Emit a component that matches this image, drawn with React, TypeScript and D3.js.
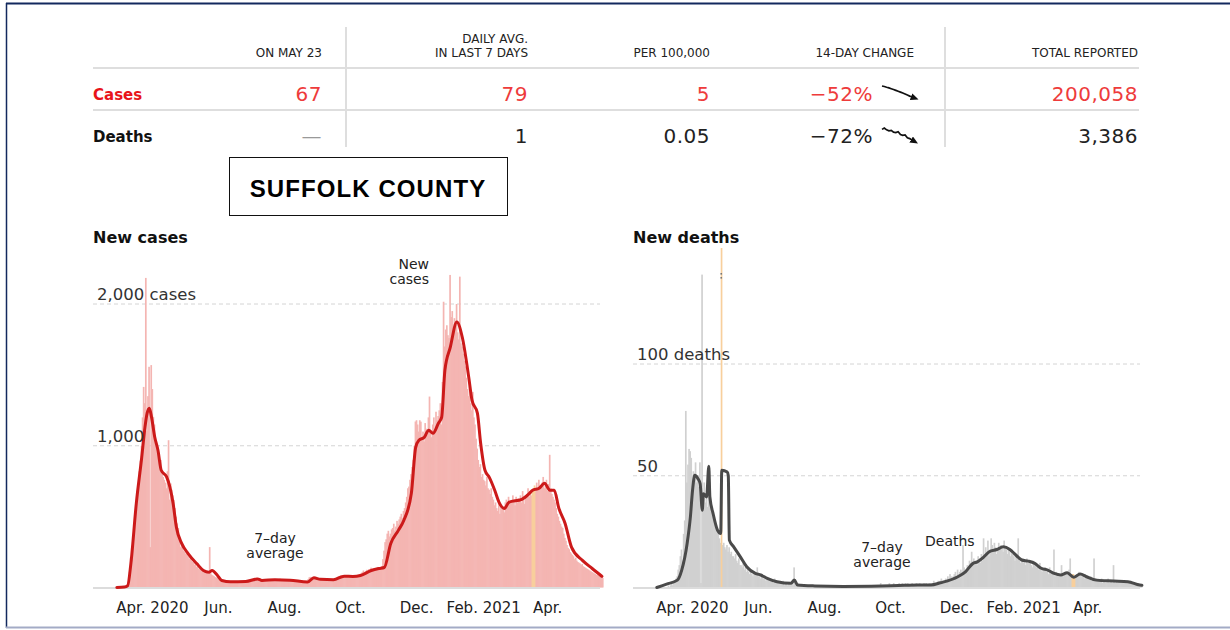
import React from 'react';
import * as d3 from 'd3';

// ---------------- DATA ----------------
const DATA_START = '2020-03-01';
const X_DOMAIN = ['2020-02-08', '2021-05-24'];

// daily new cases, one value per day from 2020-03-01 to 2021-05-23
const casesDaily: number[] = [
  0,0,0,0,0,0,1,
  1,2,5,40,110,212,280,
  330,424,480,560,683,720,820,
  894,1000,1200,1415,1300,2184,1106,
  1350,1557,285,1569,1400,1204,1150,
  1016,1000,980,900,850,900,800,
  780,760,740,700,820,1039,620,
  734,690,650,618,560,500,452,
  420,350,285,320,300,260,250,
  238,250,220,200,230,191,180,
  175,160,170,144,150,130,140,
  125,120,108,115,100,110,105,
  95,285,100,90,85,80,73,
  70,73,60,55,50,45,42,
  40,45,38,42,37,40,35,
  38,42,36,40,44,39,35,
  40,38,45,42,36,41,39,
  45,42,48,50,44,46,40,
  55,62,70,58,52,60,48,
  50,52,48,55,53,50,47,
  55,58,52,60,54,50,56,
  58,55,60,62,52,57,54,
  56,50,58,60,52,48,55,
  50,52,48,54,46,50,45,
  42,45,40,38,44,36,40,
  38,60,72,75,68,70,65,
  66,60,62,58,64,55,60,
  55,58,52,60,56,54,50,
  55,52,58,60,54,62,65,
  70,78,82,85,75,80,88,
  80,82,76,85,78,74,80,
  75,80,85,78,88,82,90,
  95,100,110,120,105,115,125,
  120,130,125,140,128,135,130,
  138,130,145,140,135,142,150,
  200,260,320,340,380,400,360,
  380,410,420,450,400,430,470,
  450,480,500,520,490,540,560,
  600,640,700,712,760,800,850,
  901,1000,1171,1180,1150,1100,1180,
  1170,1040,1100,1030,1160,1120,1080,
  1200,1347,1100,1060,1150,1200,1100,
  1240,1180,1210,1250,1300,1150,1450,
  2016,1700,1820,1850,1780,1760,2205,
  1908,1950,1837,1900,1860,2000,1800,
  1750,2193,1723,1700,1650,1600,1560,
  1480,1400,1350,1420,1300,1250,1380,
  1200,1150,1050,980,900,850,870,
  780,800,760,750,720,780,700,
  690,660,700,640,620,580,600,
  560,540,600,520,580,550,570,
  530,600,620,580,640,610,590,
  600,650,620,580,640,600,630,
  610,650,600,680,620,590,640,
  660,700,640,680,650,680,700,
  720,680,740,700,760,720,700,
  740,780,700,720,760,680,730,
  936,700,660,640,620,600,560,
  520,500,470,450,430,420,380,
  350,330,300,280,270,250,240,
  230,220,200,210,190,180,175,
  170,160,165,150,145,140,135,
  130,125,120,115,110,105,100,
  95,90,88,85,82,80,75,
  67,
];

// daily new deaths, same days
const deathsDaily: number[] = [
  0,0,0,0,0,0,0,
  0,0,0,1,0,1,2,
  1,3,2,4,5,8,10,
  14,17,12,24,30,79,47,
  55,62,61,58,44,52,50,
  56,47,50,45,56,2,140,
  40,47,38,42,36,45,40,
  36,34,32,30,28,27,25,
  24,22,20,210,19,20,18,
  17,19,16,18,15,16,14,
  14,13,15,12,11,13,10,
  10,9,11,8,9,7,9,
  7,6,8,6,5,7,6,
  6,9,5,6,4,5,5,
  4,5,3,4,4,3,4,
  3,3,2,4,3,2,3,
  2,3,2,2,3,1,2,
  2,1,2,2,1,2,1,
  9,2,1,1,2,1,1,
  1,0,1,1,0,1,1,
  0,1,1,0,1,0,1,
  1,0,1,0,1,1,0,
  1,1,0,1,0,1,0,
  0,1,0,1,1,0,1,
  1,0,0,1,0,1,0,
  0,1,1,0,1,0,1,
  1,0,1,0,0,1,1,
  0,1,0,1,1,0,0,
  1,0,1,0,1,1,0,
  0,1,1,2,1,0,1,
  1,1,0,1,2,1,1,
  1,2,1,1,0,1,2,
  1,1,2,1,1,2,1,
  2,1,1,0,2,1,1,
  1,2,1,1,2,1,1,
  1,2,1,2,1,1,2,
  2,1,2,3,1,2,2,
  3,2,3,4,2,3,3,
  4,3,5,4,6,5,4,
  5,6,7,5,8,6,7,
  8,7,19,9,6,8,10,
  9,12,11,16,10,13,11,
  12,10,14,13,11,15,12,
  22,15,18,16,21,14,17,
  22,19,16,20,18,15,17,
  20,17,19,18,16,21,18,
  17,15,18,16,14,17,15,
  14,12,15,13,22,12,11,
  12,13,11,12,10,13,11,
  11,12,10,9,12,10,11,
  9,10,8,11,9,7,8,
  8,9,7,8,6,9,7,
  7,6,17,5,7,6,5,
  6,5,10,6,5,7,6,
  7,6,8,13,5,6,6,
  5,4,6,5,7,6,5,
  6,5,4,6,5,4,5,
  4,5,3,4,13,3,4,
  3,4,3,3,4,2,3,
  3,2,3,4,2,3,3,
  2,10,3,2,3,2,3,
  3,2,3,2,3,2,2,
  3,2,2,3,2,2,1,
  2,1,1,2,1,1,1,
  0,
];

// 7-day average, read at key dates
const casesAvg: [string, number][] = [
  ['2020-03-01',0],['2020-03-08',3],['2020-03-11',12],['2020-03-14',170],['2020-03-19',594],
  ['2020-03-24',919],['2020-03-27',1131],['2020-03-29',1230],['2020-03-31',1265],['2020-04-02',1204],
  ['2020-04-05',1062],['2020-04-08',968],['2020-04-11',827],['2020-04-16',780],['2020-04-19',709],
  ['2020-04-22',592],['2020-04-25',426],['2020-04-30',309],['2020-05-06',238],['2020-05-14',167],
  ['2020-05-20',120],['2020-05-25',108],['2020-05-28',120],['2020-06-02',85],['2020-06-06',49],
  ['2020-06-14',40],['2020-06-28',42],['2020-07-09',60],['2020-07-13',50],['2020-07-25',55],
  ['2020-08-08',52],['2020-08-24',38],['2020-08-30',68],['2020-09-05',58],['2020-09-17',55],
  ['2020-09-27',80],['2020-10-05',78],['2020-10-12',85],['2020-10-22',120],['2020-10-29',134],
  ['2020-11-03',141],['2020-11-09',311],['2020-11-16',403],['2020-11-21',473],['2020-11-28',664],
  ['2020-12-02',989],['2020-12-05',1039],['2020-12-10',1060],['2020-12-14',1110],['2020-12-18',1088],
  ['2020-12-23',1159],['2020-12-26',1201],['2020-12-29',1534],['2021-01-03',1696],['2021-01-09',1873],
  ['2021-01-14',1767],['2021-01-20',1484],['2021-01-23',1322],['2021-01-28',1230],['2021-01-31',1018],
  ['2021-02-04',827],['2021-02-08',777],['2021-02-13',686],['2021-02-17',601],['2021-02-22',558],
  ['2021-02-26',601],['2021-03-10',622],['2021-03-17',664],['2021-03-20',686],['2021-03-26',700],
  ['2021-03-31',735],['2021-04-05',686],['2021-04-09',686],['2021-04-13',565],['2021-04-19',452],
  ['2021-04-25',283],['2021-05-05',191],['2021-05-14',134],['2021-05-23',79],
];

const deathsAvg: [string, number][] = [
  ['2020-03-01',0],['2020-03-10',1.5],['2020-03-20',3.3],['2020-03-24',7.8],['2020-03-29',19.7],
  ['2020-04-01',31.6],['2020-04-03',43.5],['2020-04-05',50.2],['2020-04-08',48.7],['2020-04-10',46.5],
  ['2020-04-12',34.6],['2020-04-13',42],['2020-04-16',40.5],['2020-04-18',54.2],['2020-04-19',40.5],
  ['2020-04-22',33],['2020-04-26',25.7],['2020-04-29',24.2],['2020-04-30',52.5],['2020-05-05',51.7],
  ['2020-05-06',50],['2020-05-07',21.2],['2020-05-11',18.2],['2020-05-17',13.8],['2020-05-23',9.3],
  ['2020-05-31',6.3],['2020-06-05',5.6],['2020-06-11',4.1],['2020-06-20',2.6],['2020-07-03',1.9],
  ['2020-07-06',3.3],['2020-07-09',1.1],['2020-07-25',0.7],['2020-08-20',0.5],['2020-09-15',0.6],
  ['2020-10-10',0.9],['2020-10-28',1.1],['2020-11-09',1.1],['2020-11-18',2.1],['2020-12-04',4.8],
  ['2020-12-11',7],['2020-12-18',10.8],['2020-12-22',11.5],['2020-12-28',13.7],['2021-01-02',16],
  ['2021-01-09',17],['2021-01-15',18.2],['2021-01-21',17],['2021-01-25',15.3],['2021-02-01',12.3],
  ['2021-02-07',11.8],['2021-02-13',10.8],['2021-02-19',8.6],['2021-02-25',7.8],['2021-03-03',6.3],
  ['2021-03-09',5.6],['2021-03-15',6.6],['2021-03-21',4.6],['2021-03-27',6],['2021-04-02',4.8],
  ['2021-04-11',3.3],['2021-04-27',2.9],['2021-05-10',2.6],['2021-05-21',1.1],['2021-05-23',1],
];

const casesHighlight = ['2021-03-19', '2021-03-20', '2021-03-21'];
const deathsHighlight = ['2020-04-29', '2021-03-19', '2021-03-20', '2021-03-21'];

const tickDates = ['2020-04-01','2020-06-01','2020-08-01','2020-10-01','2020-12-01','2021-02-01','2021-04-01'];
const tickLabels = ['Apr. 2020','Jun.','Aug.','Oct.','Dec.','Feb. 2021','Apr.'];

const caseGridValues = [1000, 2000];
const caseGridLabels = ['1,000', '2,000 cases'];
const deathGridValues = [50, 100];
const deathGridLabels = ['50', '100 deaths'];

const tableHeaders: string[][] = [['ON MAY 23'], ['DAILY AVG.', 'IN LAST 7 DAYS'], ['PER 100,000'], ['14-DAY CHANGE'], ['TOTAL REPORTED']];
const rowNames = ['Cases', 'Deaths'];
const casesRow = ['67', '79', '5', '\u221252%', '200,058'];
const deathsRow = ['\u2014', '1', '0.05', '\u221272%', '3,386'];
const sparkCases = [165, 161, 155, 150, 144, 138, 131, 124, 117, 110, 102, 94, 86, 79];
const sparkDeaths = [3.3, 3.6, 3.2, 3.0, 3.1, 2.7, 2.6, 2.8, 2.2, 2.0, 2.1, 1.5, 1.3, 1.0];

// ---------------- LAYOUT ----------------
const SANS = "'DejaVu Sans', Verdana, sans-serif";
const parse = d3.timeParse('%Y-%m-%d');
const fmt = d3.timeFormat('%Y-%m-%d');

type PanelProps = {
  off: number;
  daily: number[];
  avg: [string, number][];
  highlight: string[];
  y: d3.ScaleLinear<number, number>;
  gridValues: number[];
  gridLabels: string[];
  barColor: string;
  hiColor: string;
  lineColor: string;
  id: string;
  children?: React.ReactNode;
};

function Panel({ off, daily, avg, highlight, y, gridValues, gridLabels, barColor, hiColor, lineColor, id, children }: PanelProps) {
  const x = d3.scaleTime().domain(X_DOMAIN.map((s) => parse(s) as Date)).range([93 + off, 603 + off]);
  const start = parse(DATA_START) as Date;
  const hi = new Set(highlight);
  const bars = daily.map((v, i) => {
    const d0 = d3.timeDay.offset(start, i);
    const d1 = d3.timeDay.offset(start, i + 1);
    return { x: x(d0), w: x(d1) - x(d0), y: y(v), h: y(0) - y(v), hi: hi.has(fmt(d0)), v };
  });
  const line = d3
    .line<[string, number]>()
    .x((p) => x(parse(p[0]) as Date))
    .y((p) => y(p[1]))
    .curve(d3.curveMonotoneX);
  const x0 = 93 + off;
  const x1 = 600 + off;
  const clipTop = 248;
  const broken = bars.filter((b) => b.y < clipTop);
  return (
    <g>
      <defs>
        <clipPath id={id}>
          <rect x={x0 - 2} y={clipTop} width={x1 - x0 + 8} height={y(0) - clipTop + 1} />
        </clipPath>
      </defs>
      {gridValues.map((g) => (
        <line key={g} x1={x0} x2={x1} y1={y(g)} y2={y(g)} stroke="#d4d4d4" strokeWidth={1} strokeDasharray="4,3" />
      ))}
      <g clipPath={`url(#${id})`}>
        {bars.filter((b) => !b.hi).map((b, i) => (
          <rect key={i} x={b.x} width={b.w + 0.6} y={b.y} height={b.h} fill={barColor} />
        ))}
        {bars.filter((b) => b.hi).map((b, i) => (
          <rect key={'h' + i} x={b.x} width={b.w + 0.6} y={b.y} height={b.h} fill={hiColor} />
        ))}
      </g>
      {broken.map((b, i) => (
        <g key={'br' + i}>
          <rect x={b.x + b.w / 2 - 0.8} y={273} width={1.6} height={1.6} fill="#777" />
          <rect x={b.x + b.w / 2 - 0.8} y={277} width={1.6} height={1.6} fill="#777" />
        </g>
      ))}
      <line x1={x0} x2={x1} y1={y(0) + 0.5} y2={y(0) + 0.5} stroke="#dcdcdc" strokeWidth={2} />
      <path d={line(avg) || ''} fill="none" stroke={lineColor} strokeWidth={3} strokeLinejoin="round" strokeLinecap="round" />
      {gridValues.map((g, i) => (
        <text key={'gl' + g} x={x0 + 4} y={y(g) - 4} fontFamily={SANS} fontSize={16.5} fill="#333">
          {gridLabels[i]}
        </text>
      ))}
      {tickDates.map((t, i) => (
        <text key={t} x={x(parse(t) as Date) + 2} y={612.5} textAnchor="middle" fontFamily={SANS} fontSize={15} fill="#222">
          {tickLabels[i]}
        </text>
      ))}
      {children}
    </g>
  );
}

function Spark({ values, xa, xb, ya, yb }: { values: number[]; xa: number; xb: number; ya: number; yb: number }) {
  const sx = d3.scaleLinear().domain([0, values.length - 1]).range([xa, xb]);
  const ext = d3.extent(values) as [number, number];
  const sy = d3.scaleLinear().domain([ext[1], ext[0]]).range([ya, yb]);
  const line = d3.line<number>().x((_, i) => sx(i)).y((v) => sy(v));
  return <path d={line(values) || ''} fill="none" stroke="#111" strokeWidth={1.7} markerEnd="url(#arrow)" />;
}

export default function App() {
  const yCases = d3.scaleLinear().domain([0, 2000]).range([587.5, 304]);
  const yDeaths = d3.scaleLinear().domain([0, 100]).range([587.5, 364]);
  const colRight = [322, 528, 710, 873, 1138];
  const headerRight = [322, 528, 710, 914, 1138];
  const rowBase = [101, 143];
  const rowsData = [casesRow, deathsRow];
  const rowColors = ['#ee3b3b', '#222'];
  const nameColors = ['#e8141a', '#111'];

  return (
    <svg width={1230} height={630} style={{ position: 'absolute', left: 0, top: 0, background: '#fff' }}>
      <defs>
        <marker id="arrow" viewBox="0 0 8 7" refX={1} refY={3.5} markerWidth={8} markerHeight={7} markerUnits="userSpaceOnUse" orient="auto">
          <path d="M0,0 L8,3.5 L0,7 Z" fill="#111" />
        </marker>
      </defs>
      <rect x={0} y={0} width={1230} height={630} fill="#fff" />
      {/* border */}
      <line x1={6} x2={1230} y1={3.5} y2={3.5} stroke="#13295e" strokeWidth={2} />
      <line x1={6.5} x2={6.5} y1={3} y2={628} stroke="#13295e" strokeWidth={1.5} />
      <line x1={6} x2={1230} y1={627.5} y2={627.5} stroke="#a3abc6" strokeWidth={2} />

      {/* table */}
      <line x1={346} x2={346} y1={27} y2={147} stroke="#dedede" strokeWidth={2} />
      <line x1={945} x2={945} y1={27} y2={147} stroke="#dedede" strokeWidth={2} />
      <line x1={93} x2={1139} y1={68} y2={68} stroke="#dedede" strokeWidth={2} />
      <line x1={93} x2={1139} y1={110} y2={110} stroke="#dedede" strokeWidth={2} />
      {tableHeaders.map((lines, c) =>
        lines.map((l, k) => (
          <text key={c + '-' + k} x={headerRight[c]} y={56.5 - (lines.length - 1 - k) * 14} textAnchor="end" fontFamily={SANS} fontSize={12} fill="#222">
            {l}
          </text>
        ))
      )}
      {rowNames.map((n, r) => (
        <text key={n} x={93} y={rowBase[r] - 1.5} fontFamily={SANS} fontWeight="bold" fontSize={15} fill={nameColors[r]}>
          {n}
        </text>
      ))}
      {rowsData.map((row, r) =>
        row.map((v, c) => (
          <text
            key={r + '-' + c}
            x={colRight[c]}
            y={rowBase[r]}
            textAnchor="end"
            fontFamily={SANS}
            fontSize={20}
            letterSpacing={0.5}
            fill={v === '\u2014' ? '#999' : rowColors[r]}
          >
            {v}
          </text>
        ))
      )}
      <Spark values={sparkCases} xa={882} xb={912} ya={86} yb={97} />
      <Spark values={sparkDeaths} xa={882} xb={912} ya={128} yb={140} />

      {/* county box */}
      <rect x={229.5} y={157.5} width={278} height={58} fill="#fff" stroke="#111" strokeWidth={1} />
      <text x={368} y={196.5} textAnchor="middle" fontFamily="'Liberation Sans', Arial, sans-serif" fontWeight="bold" fontSize={24} letterSpacing={1.1} fill="#000">
        SUFFOLK COUNTY
      </text>

      {/* titles */}
      <text x={93} y={242.5} fontFamily={SANS} fontWeight="bold" fontSize={16} fill="#111">New cases</text>
      <text x={633} y={242.5} fontFamily={SANS} fontWeight="bold" fontSize={16} fill="#111">New deaths</text>

      <Panel
        off={0}
        daily={casesDaily}
        avg={casesAvg}
        highlight={casesHighlight}
        y={yCases}
        gridValues={caseGridValues}
        gridLabels={caseGridLabels}
        barColor="#f4b5b2"
        hiColor="#f8cf9c"
        lineColor="#cc1a1a"
        id="clipCases"
      >
        <text x={275} y={543} textAnchor="middle" fontFamily={SANS} fontSize={14} fill="#222">7–day</text>
        <text x={275} y={557.5} textAnchor="middle" fontFamily={SANS} fontSize={14} fill="#222">average</text>
        <text x={429} y={269} textAnchor="end" fontFamily={SANS} fontSize={14} fill="#222">New</text>
        <text x={429} y={283.5} textAnchor="end" fontFamily={SANS} fontSize={14} fill="#222">cases</text>
      </Panel>
      <Panel
        off={540}
        daily={deathsDaily}
        avg={deathsAvg}
        highlight={deathsHighlight}
        y={yDeaths}
        gridValues={deathGridValues}
        gridLabels={deathGridLabels}
        barColor="#d0d0d0"
        hiColor="#f8cf9c"
        lineColor="#4a4a4a"
        id="clipDeaths"
      >
        <text x={882} y={552} textAnchor="middle" fontFamily={SANS} fontSize={14} fill="#222">7–day</text>
        <text x={882} y={566.5} textAnchor="middle" fontFamily={SANS} fontSize={14} fill="#222">average</text>
        <text x={925} y={546} fontFamily={SANS} fontSize={14} fill="#222">Deaths</text>
      </Panel>
    </svg>
  );
}
